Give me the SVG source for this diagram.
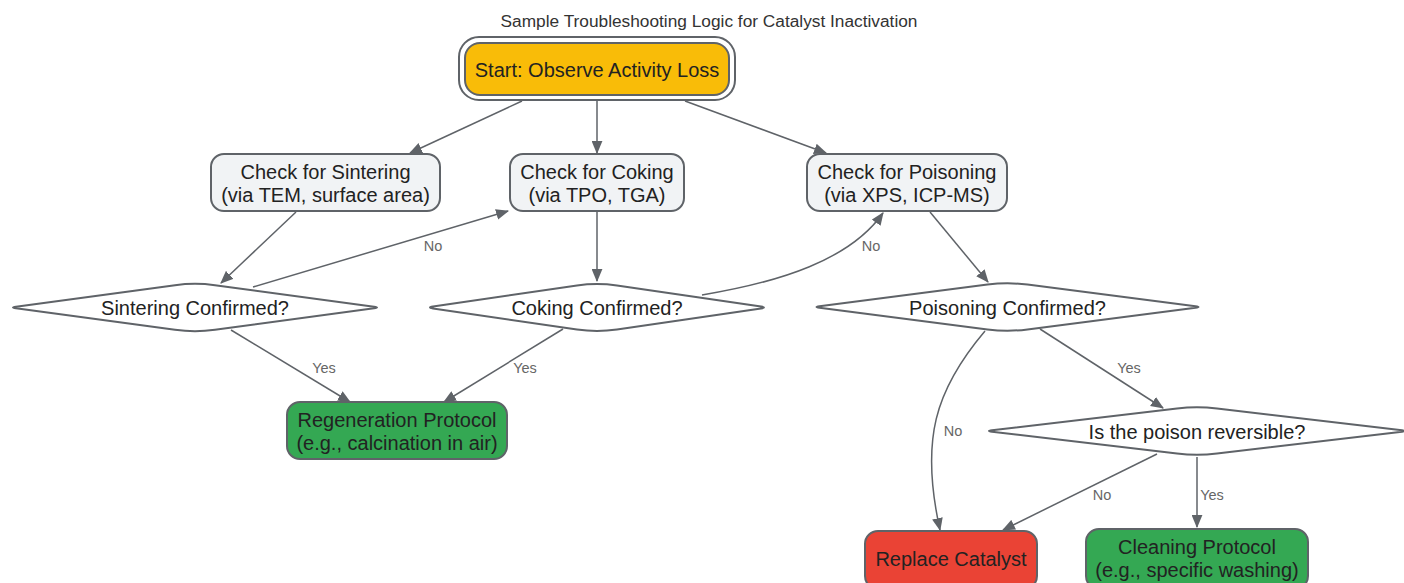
<svg xmlns="http://www.w3.org/2000/svg" width="1404" height="583" viewBox="0 0 1404 583">
<style>
text{font-family:"Liberation Sans",Arial,sans-serif;fill:#222;text-anchor:middle;}
.t{font-size:17.3px;fill:#333;}
.n{font-size:20px;}
.lb{font-size:14.5px;fill:#666;}
.box{stroke:#5f6368;stroke-width:2;}
.gray{fill:#f1f3f5;}
.dia{fill:#fff;stroke:#5f6368;stroke-width:2;stroke-linejoin:round;}
.e{fill:none;stroke:#5f6368;stroke-width:1.5;marker-end:url(#ah);}
</style>
<defs>
<marker id="ah" viewBox="0 0 12 10" refX="11" refY="5" markerWidth="13" markerHeight="11" markerUnits="userSpaceOnUse" orient="auto">
<path d="M0,0 L12,5 L0,10 Z" fill="#5f6368"/>
</marker>
</defs>
<rect width="1404" height="583" fill="#fff"/>
<text class="t" x="709" y="27">Sample Troubleshooting Logic for Catalyst Inactivation</text>

<g id="edges">
<path class="e" d="M522,101 L410,153"/>
<path class="e" d="M597,101 L597,153"/>
<path class="e" d="M685,101 L826,153"/>
<path class="e" d="M296,212 L221,283"/>
<path class="e" d="M253,287 L508,211"/>
<path class="e" d="M597,212 L597,281"/>
<path class="e" d="M702,295 C780,282 850,260 883,213"/>
<path class="e" d="M930,212 L988,282"/>
<path class="e" d="M231,330 L350,402"/>
<path class="e" d="M563,329 L444,402"/>
<path class="e" d="M1040,329 L1163,408"/>
<path class="e" d="M985,331 C935,390 920,440 940,530"/>
<path class="e" d="M1157,454 L1003,530"/>
<path class="e" d="M1197,457 L1197,527"/>
<text class="lb" x="433" y="251">No</text>
<text class="lb" x="871" y="251">No</text>
<text class="lb" x="324" y="373">Yes</text>
<text class="lb" x="525" y="373">Yes</text>
<text class="lb" x="1129" y="373">Yes</text>
<text class="lb" x="953" y="436">No</text>
<text class="lb" x="1102" y="500">No</text>
<text class="lb" x="1212" y="500">Yes</text>
</g>

<g id="start">
<rect x="459" y="37" width="276" height="63" rx="20" fill="#fff" stroke="#5f6368" stroke-width="2"/>
<rect class="box" x="465" y="43" width="264" height="52" rx="15" fill="#f9bc08"/>
<text class="n" x="597" y="77">Start: Observe Activity Loss</text>
</g>

<g id="checkSintering">
<rect class="box gray" x="211" y="154" width="229" height="57" rx="13"/>
<text class="n" x="325.5" y="179">Check for Sintering</text>
<text class="n" x="325.5" y="202">(via TEM, surface area)</text>
</g>

<g id="checkCoking">
<rect class="box gray" x="510" y="154" width="174" height="57" rx="13"/>
<text class="n" x="597" y="179">Check for Coking</text>
<text class="n" x="597" y="202">(via TPO, TGA)</text>
</g>

<g id="checkPoisoning">
<rect class="box gray" x="807" y="154" width="200" height="57" rx="13"/>
<text class="n" x="907" y="179">Check for Poisoning</text>
<text class="n" x="907" y="202">(via XPS, ICP-MS)</text>
</g>

<g id="sinteringConfirmed">
<path class="dia" d="M16,306.7 Q10,307.5 16,308.3 L175,329.8 Q195,332.5 215,329.8 L374,308.3 Q380,307.5 374,306.7 L215,285.2 Q195,282.5 175,285.2 Z"/>
<text class="n" x="195" y="315">Sintering Confirmed?</text>
</g>

<g id="cokingConfirmed">
<path class="dia" d="M433,306.6 Q427,307.5 433,308.4 L577,329.6 Q597,332.5 617,329.6 L761,308.4 Q767,307.5 761,306.6 L617,285.4 Q597,282.5 577,285.4 Z"/>
<text class="n" x="597" y="315">Coking Confirmed?</text>
</g>

<g id="poisoningConfirmed">
<path class="dia" d="M819.5,306.2 Q813.5,307 819.5,307.8 L987.5,329.4 Q1007.5,332 1027.5,329.4 L1195.5,307.8 Q1201.5,307 1195.5,306.2 L1027.5,284.6 Q1007.5,282 987.5,284.6 Z"/>
<text class="n" x="1007.5" y="315">Poisoning Confirmed?</text>
</g>

<g id="regeneration">
<rect class="box" x="287" y="402" width="220" height="57" rx="13" fill="#34a853"/>
<text class="n" x="397" y="427">Regeneration Protocol</text>
<text class="n" x="397" y="450">(e.g., calcination in air)</text>
</g>

<g id="reversible">
<path class="dia" d="M992,430.3 Q986,431 992,431.7 L1177,453.6 Q1197,456 1217,453.6 L1402,431.7 Q1408,431 1402,430.3 L1217,408.4 Q1197,406 1177,408.4 Z"/>
<text class="n" x="1197" y="439">Is the poison reversible?</text>
</g>

<g id="replace">
<rect class="box" x="865" y="531" width="172" height="58" rx="13" fill="#ea4335"/>
<text class="n" x="951" y="566">Replace Catalyst</text>
</g>

<g id="cleaning">
<rect class="box" x="1086" y="529" width="222" height="60" rx="13" fill="#34a853"/>
<text class="n" x="1197" y="554">Cleaning Protocol</text>
<text class="n" x="1197" y="577">(e.g., specific washing)</text>
</g>
</svg>
